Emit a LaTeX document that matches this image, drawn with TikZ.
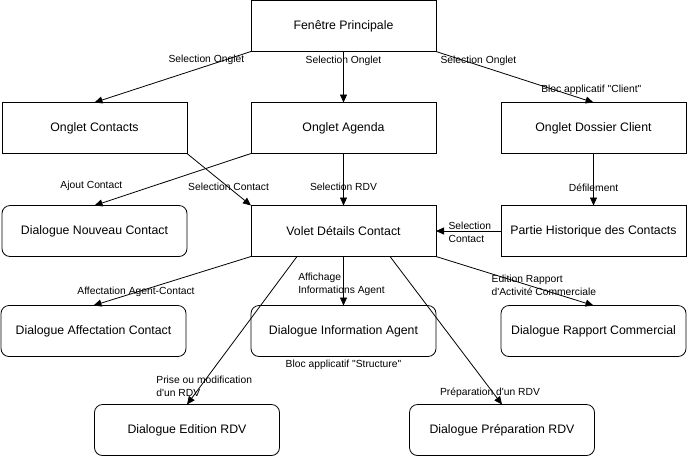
\documentclass[tikz,border=0pt]{standalone}
\usepackage{fontspec}
\newfontfamily\arialfont{Liberation Sans}
\usetikzlibrary{arrows.meta,positioning}

\tikzset{
  ecran/.style={draw, line width=0.8pt, minimum width=185pt, minimum height=51pt,
    inner sep=0pt, outer sep=0pt, font=\arialfont\fontsize{12.3}{14}\selectfont},
  dialogue/.style={ecran, rounded corners=8pt},
  lien/.style={-{Triangle[length=8pt,width=7pt]}, line width=0.8pt},
  etiquette/.style={inner sep=0pt, align=left, font=\arialfont\fontsize{10.3}{13}\selectfont},
}

\begin{document}
\begin{tikzpicture}[x=1pt,y=-1pt]
\useasboundingbox (0,0) rectangle (687,456);

% ecrans et onglets
\node[ecran] (principale) at (343.5,26) {Fenêtre Principale};
\node[ecran] (agenda) [below=51pt of principale] {Onglet Agenda};
\node[ecran] (contacts) [left=64pt of agenda] {Onglet Contacts};
\node[ecran] (dossier) [right=65pt of agenda] {Onglet Dossier Client};

\node[ecran] (volet) [below=52pt of agenda] {Volet Détails Contact};
\node[dialogue] (nouveau) [left=64pt of volet] {Dialogue Nouveau Contact};
\node[ecran] (historique) [right=65pt of volet] {Partie Historique des Contacts};

% dialogues
\node[dialogue] (information) [below=49pt of volet] {Dialogue Information Agent};
\node[dialogue] (affectation) [left=65pt of information] {Dialogue Affectation Contact};
\node[dialogue] (rapport) [right=65pt of information] {Dialogue Rapport Commercial};
\node[dialogue] (edition) [below=48pt of information, xshift=-156.5pt] {Dialogue Edition RDV};
\node[dialogue] (preparation) [below=48pt of information, xshift=158.5pt] {Dialogue Préparation RDV};
\node[etiquette] (structure) [below=3pt of information] {Bloc applicatif "Structure"};

% liens
\draw[lien] (principale.south west) -- (contacts.north)
  node[etiquette, pos=0.17, xshift=-18pt] (selonglet1) {Selection Onglet};
\draw[lien] (principale.south) -- (agenda.north)
  node[etiquette, pos=0.18] (selonglet2) {Selection Onglet};
\draw[lien] (principale.south east) -- (dossier.north)
  node[etiquette, pos=0.18, xshift=14pt] (selonglet3) {Selection Onglet}
  node[etiquette, pos=0.745, xshift=38pt] (client) {Bloc applicatif "Client"};

\draw[lien] (contacts.south east) -- (volet.north west)
  node[etiquette, pos=0.65] (selcontact) {Selection Contact};
\draw[lien] (agenda.south west) -- (nouveau.north)
  node[etiquette, pos=0.63, xshift=-61pt] (ajout) {Ajout Contact};
\draw[lien] (agenda.south) -- (volet.north)
  node[etiquette, pos=0.65] (selrdv) {Selection RDV};
\draw[lien] (dossier.south) -- (historique.north)
  node[etiquette, pos=0.65] (defilement) {Défilement};
\draw[lien] (historique.west) -- (volet.east)
  node[etiquette, pos=0.48, yshift=-1.5pt] (selhisto) {Selection\\Contact};

\draw[lien] (volet.south west) -- (affectation.north)
  node[etiquette, pos=0.73] (agentcontact) {Affectation Agent-Contact};
\draw[lien] (volet.south) -- (information.north)
  node[etiquette, pos=0.57, xshift=-2pt] (affichage) {Affichage\\Informations Agent};
\draw[lien] (volet.south east) -- (rapport.north)
  node[etiquette, pos=0.58, xshift=16.5pt] (rapportlbl) {Edition Rapport\\d'Activité Commerciale};
\draw[lien] ([xshift=46pt]volet.south west) -- (edition.north)
  node[etiquette, pos=0.88, xshift=4pt] (prise) {Prise ou modification\\d'un RDV};
\draw[lien] ([xshift=-46pt]volet.south east) -- (preparation.north)
  node[etiquette, pos=0.92, xshift=-3pt] (prep) {Préparation d'un RDV};

\end{tikzpicture}
\end{document}
